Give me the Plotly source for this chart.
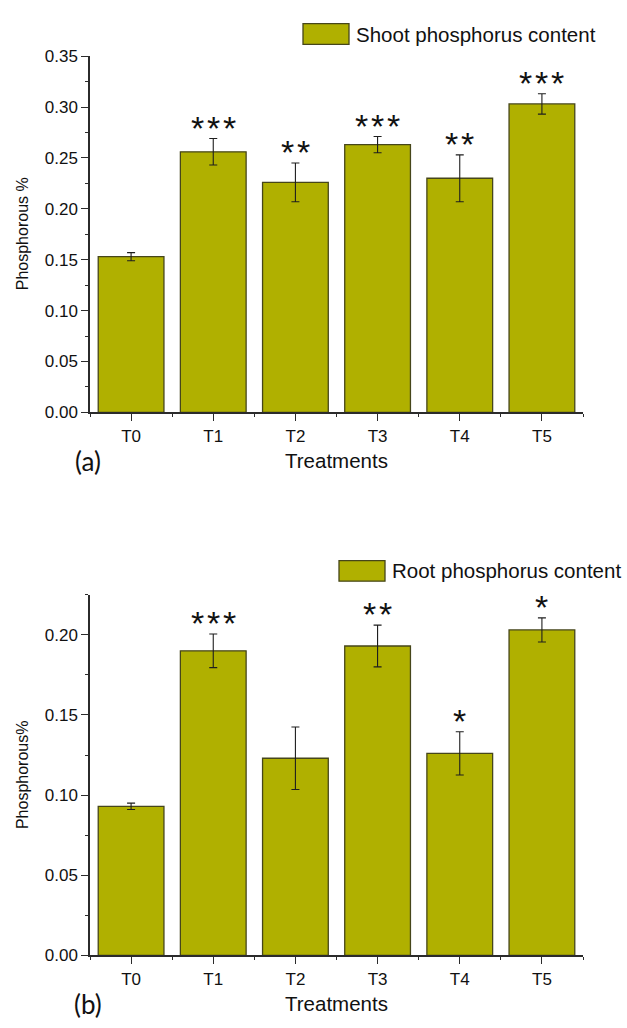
import plotly.graph_objects as go

# ---- data ----
treatments = ["T0", "T1", "T2", "T3", "T4", "T5"]

shoot_p = [0.153, 0.256, 0.226, 0.263, 0.230, 0.303]
shoot_err = [0.004, 0.013, 0.019, 0.008, 0.023, 0.010]
shoot_sig = ["", "***", "**", "***", "**", "***"]

root_p = [0.093, 0.190, 0.123, 0.193, 0.126, 0.203]
root_err = [0.002, 0.0105, 0.0195, 0.013, 0.0135, 0.0075]
root_sig = ["", "***", "", "**", "*", "*"]

shoot_name = "Shoot phosphorus content"
root_name = "Root phosphorus content"

# ---- page geometry helpers (pixels -> paper fractions) ----
W, H = 627, 1028


def px(x):
    return x / W


def py(y):
    return 1 - y / H


BAR_FILL = "#b0b000"
BAR_EDGE = "#46461a"
AXIS_COL = "#2b2b2b"
FONT = "Liberation Sans"
STAR_GAP = 16  # horizontal pitch between stars, px

xpos = list(range(len(treatments)))

fig = go.Figure()


def add_bars(values, errors, name, xa, ya):
    fig.add_trace(go.Bar(
        x=xpos, y=values, name=name, width=0.8,
        marker=dict(color=BAR_FILL, line=dict(color=BAR_EDGE, width=1.3)),
        error_y=dict(type="data", array=errors, visible=True,
                     color="#1e1e1e", thickness=1.1, width=4),
        xaxis=xa, yaxis=ya, showlegend=False,
    ))


add_bars(shoot_p, shoot_err, shoot_name, "x", "y")
add_bars(root_p, root_err, root_name, "x2", "y2")

# significance stars above error bars, one annotation per star
def add_stars(values, errors, marks, xa, ya):
    for xi, v, e, s in zip(xpos, values, errors, marks):
        n = len(s)
        for k, ch in enumerate(s):
            fig.add_annotation(
                x=xi, y=v + e, xref=xa, yref=ya, text=ch,
                showarrow=False, yanchor="middle", yshift=11,
                xshift=(k - (n - 1) / 2) * STAR_GAP,
                font=dict(family=FONT, size=34, color="#111"),
            )


add_stars(shoot_p, shoot_err, shoot_sig, "x", "y")
add_stars(root_p, root_err, root_sig, "x2", "y2")

xaxis_common = dict(
    range=[-0.5, 5.5], tickmode="array", tickvals=xpos, ticktext=treatments,
    showline=True, linecolor=AXIS_COL, linewidth=1.5,
    ticks="outside", ticklen=7, tickwidth=1.3, tickcolor=AXIS_COL,
    minor=dict(tickvals=[i - 0.5 for i in range(len(treatments) + 1)],
               ticks="outside", ticklen=3, tickwidth=1.3, tickcolor=AXIS_COL),
    tickfont=dict(family=FONT, size=17, color="#111"),
    showgrid=False, zeroline=False, fixedrange=True,
)

yaxis_common = dict(
    showline=True, linecolor=AXIS_COL, linewidth=1.5,
    ticks="outside", ticklen=7, tickwidth=1.3, tickcolor=AXIS_COL,
    dtick=0.05, tick0=0, tickformat=".2f",
    minor=dict(dtick=0.025, ticks="outside", ticklen=3, tickwidth=1.3,
               tickcolor=AXIS_COL),
    tickfont=dict(family=FONT, size=17, color="#111"),
    showgrid=False, zeroline=False, fixedrange=True,
)

fig.update_layout(
    width=W, height=H, margin=dict(l=0, r=0, t=0, b=0),
    paper_bgcolor="white", plot_bgcolor="white",
    font=dict(family=FONT),
    bargap=0.2,
    xaxis=dict(domain=[px(90), px(583)], anchor="y", **xaxis_common),
    yaxis=dict(domain=[py(411), py(48)], anchor="x", range=[0, 0.35],
               **yaxis_common),
    xaxis2=dict(domain=[px(90), px(583)], anchor="y2", **xaxis_common),
    yaxis2=dict(domain=[py(964.3), py(596.7)], anchor="x2", range=[0, 0.225],
                **yaxis_common),
)

# axis titles
def text(x, y, s, size, angle=0, family=FONT, xanchor="center"):
    fig.add_annotation(x=px(x), y=py(y), xref="paper", yref="paper", text=s,
                       showarrow=False, textangle=angle, xanchor=xanchor,
                       yanchor="middle",
                       font=dict(family=family, size=size, color="#111"))


text(22, 229.5, "Phosphorous %", 16, angle=-90)
text(22, 780.5, "Phosphorous%", 16, angle=-90)
text(336.5, 459.5, "Treatments", 20.5)
text(336.5, 1013, "Treatments", 20.5)
text(88, 461, "(a)", 26, family="Lato")
text(88, 1014, "(b)", 26, family="Lato")

# legend boxes
def legend_entry(x0, y0, x1, y1, label):
    fig.add_shape(type="rect", xref="paper", yref="paper",
                  x0=px(x0), x1=px(x1), y0=py(y1), y1=py(y0),
                  fillcolor=BAR_FILL, line=dict(color=BAR_EDGE, width=1.3))
    text(x1 + 5, (y0 + y1) / 2, label, 20.5, xanchor="left")


legend_entry(303, 15, 349, 36, shoot_name)
legend_entry(339, 562, 385, 583, root_name)

fig.write_html("out.html")
